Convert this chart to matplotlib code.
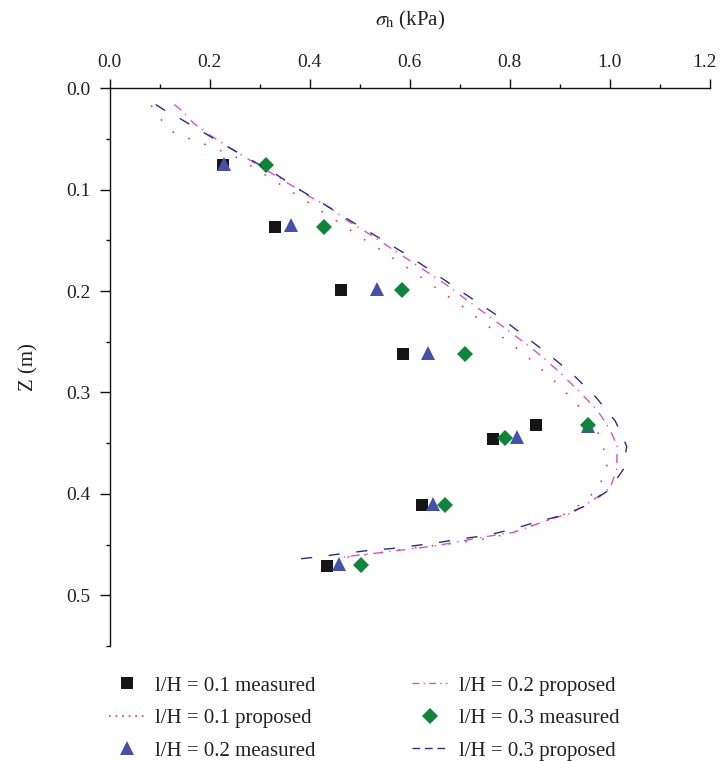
import matplotlib
matplotlib.use("Agg")
import matplotlib.pyplot as plt
from matplotlib.lines import Line2D
from matplotlib.transforms import ScaledTranslation
from matplotlib.ticker import MultipleLocator, FormatStrFormatter

plt.rcParams['font.family'] = ['Liberation Serif', 'DejaVu Serif']
plt.rcParams['mathtext.fontset'] = 'stix'

# ---- measured data (sigma_h in kPa, depth Z in m) ----
z_m01 = [0.076, 0.137, 0.199, 0.262, 0.332, 0.346, 0.411, 0.471]
s_m01 = [0.227, 0.331, 0.463, 0.586, 0.853, 0.766, 0.625, 0.435]

z_m02 = [0.075, 0.135, 0.198, 0.261, 0.333, 0.344, 0.410, 0.469]
s_m02 = [0.228, 0.363, 0.535, 0.636, 0.957, 0.815, 0.647, 0.458]

z_m03 = [0.076, 0.137, 0.199, 0.262, 0.332, 0.345, 0.411, 0.470]
s_m03 = [0.312, 0.429, 0.584, 0.710, 0.957, 0.791, 0.671, 0.503]

# ---- proposed curves ----
z_p01 = [0.017, 0.031, 0.043, 0.049, 0.054, 0.060, 0.065, 0.073, 0.082, 0.091,
         0.100, 0.109, 0.119, 0.128, 0.137, 0.147, 0.156, 0.166, 0.185, 0.195,
         0.205, 0.215, 0.226, 0.237, 0.248, 0.259, 0.271, 0.284, 0.297, 0.312,
         0.326, 0.340, 0.354, 0.369, 0.382, 0.396, 0.409, 0.419, 0.424, 0.429,
         0.434, 0.439, 0.445, 0.449, 0.452, 0.456, 0.460, 0.463]
s_p01 = [0.083, 0.103, 0.126, 0.155, 0.184, 0.213, 0.242, 0.271, 0.300, 0.329,
         0.357, 0.387, 0.416, 0.445, 0.473, 0.502, 0.531, 0.562, 0.619, 0.647,
         0.676, 0.705, 0.734, 0.763, 0.792, 0.821, 0.850, 0.879, 0.907, 0.935,
         0.958, 0.977, 0.987, 0.996, 0.989, 0.974, 0.945, 0.915, 0.887, 0.857,
         0.829, 0.801, 0.743, 0.684, 0.627, 0.569, 0.511, 0.465]

z_p02 = [0.016, 0.022, 0.035, 0.048, 0.059, 0.083, 0.095, 0.107, 0.118, 0.131,
         0.143, 0.181, 0.194, 0.208, 0.222, 0.236, 0.250, 0.265, 0.282, 0.300,
         0.318, 0.337, 0.353, 0.376, 0.394, 0.407, 0.419, 0.424, 0.438, 0.442,
         0.451, 0.458, 0.460, 0.463]
s_p02 = [0.129, 0.144, 0.169, 0.206, 0.241, 0.321, 0.361, 0.401, 0.441, 0.477,
         0.517, 0.634, 0.674, 0.712, 0.751, 0.789, 0.827, 0.866, 0.904, 0.941,
         0.976, 1.001, 1.015, 1.014, 1.001, 0.964, 0.924, 0.887, 0.807, 0.754,
         0.654, 0.541, 0.501, 0.461]

z_p03 = [0.016, 0.022, 0.030, 0.044, 0.058, 0.071, 0.085, 0.101, 0.115, 0.130,
         0.144, 0.162, 0.177, 0.194, 0.210, 0.226, 0.244, 0.262, 0.282, 0.305,
         0.328, 0.353, 0.376, 0.396, 0.412, 0.421, 0.428, 0.435, 0.441, 0.444,
         0.448, 0.451, 0.454, 0.456, 0.459, 0.462, 0.4655]
s_p03 = [0.092, 0.111, 0.141, 0.189, 0.237, 0.284, 0.333, 0.383, 0.431, 0.479,
         0.527, 0.587, 0.634, 0.684, 0.732, 0.781, 0.829, 0.877, 0.926, 0.973,
         1.011, 1.034, 1.027, 0.999, 0.951, 0.906, 0.852, 0.804, 0.754, 0.707,
         0.657, 0.611, 0.561, 0.514, 0.464, 0.417, 0.355]

labels = ['l/H = 0.1 measured', 'l/H = 0.1 proposed', 'l/H = 0.2 measured',
          'l/H = 0.2 proposed', 'l/H = 0.3 measured', 'l/H = 0.3 proposed']

fig = plt.figure(figsize=(7.2, 7.61), dpi=100)
ax = fig.add_axes([0.1524, 0.1511, 0.8333, 0.7329])

c_red = '#e8352c'
c_mag = '#d455c6'
c_navy = '#2b2d86'
c_blue = '#4650aa'
c_green = '#11843b'
c_black = '#151515'

h1, = ax.plot(s_m01, z_m01, ls='none', marker='s', ms=8.6, mew=0, color=c_black)
ax.plot(s_p01, z_p01, ls=(0, (1.1, 10)), lw=1.1, color=c_red)
h3, = ax.plot(s_m02, z_m02, ls='none', marker='^', ms=10.5, mew=0, color=c_blue)
ax.plot(s_p02, z_p02, ls=(0, (6.5, 4, 1, 5)), lw=1.0, color=c_mag)
h5, = ax.plot(s_m03, z_m03, ls='none', marker='D', ms=8.0, mew=0, color=c_green)
ax.plot(s_p03, z_p03, ls=(0, (8, 12)), lw=1.0, color=c_navy)

# legend keys drawn with the short patterns used in the original legend
h2 = Line2D([], [], ls=(0, (1.1, 3.2)), lw=1.1, color=c_red)
h4 = Line2D([], [], ls=(0, (5, 3, 1, 3)), lw=1.0, color=c_mag)
h6 = Line2D([], [], ls=(0, (5.5, 3.5)), lw=1.0, color=c_navy)

ax.set_xlim(0, 1.2)
ax.set_ylim(0.55, 0)

ax.spines['right'].set_visible(False)
ax.spines['bottom'].set_visible(False)
for sp in ('left', 'top'):
    ax.spines[sp].set_linewidth(1.0)
    ax.spines[sp].set_color('#111111')

ax.xaxis.tick_top()
ax.xaxis.set_label_position('top')
ax.xaxis.set_major_locator(MultipleLocator(0.2))
ax.xaxis.set_minor_locator(MultipleLocator(0.1))
ax.yaxis.set_major_locator(MultipleLocator(0.1))
ax.yaxis.set_minor_locator(MultipleLocator(0.05))
ax.xaxis.set_major_formatter(FormatStrFormatter('%.1f'))
ax.yaxis.set_major_formatter(FormatStrFormatter('%.1f'))

ax.tick_params(axis='x', which='major', direction='out', length=6.5, width=1.0,
               pad=6, labelsize=14, colors='#111111', labelcolor='#222222')
ax.tick_params(axis='x', which='minor', direction='out', length=3, width=1.0,
               colors='#111111')
ax.tick_params(axis='y', which='major', direction='out', length=7, width=1.0,
               pad=7, labelsize=14, colors='#111111', labelcolor='#222222')
ax.tick_params(axis='y', which='minor', direction='out', length=3, width=1.0,
               colors='#111111')

# nudge the last top tick label so it stays inside the figure
fig.canvas.draw()
last = ax.xaxis.get_major_ticks()[-1]
for tk in ax.xaxis.get_major_ticks():
    if abs(tk.get_loc() - 1.2) < 1e-6:
        last = tk
last.label2.set_transform(last.label2.get_transform()
                          + ScaledTranslation(-4 / 72, 0, fig.dpi_scale_trans))

ax.set_xlabel(r'$\sigma_{\mathrm{h}}$ (kPa)', fontsize=15, color='#222222')
ax.xaxis.set_label_coords(0.5, 1.113)
ax.set_ylabel('Z (m)', fontsize=15, color='#222222')
ax.yaxis.set_label_coords(-0.118, 0.5)

leg = fig.legend([h1, h2, h3, h4, h5, h6], labels, ncol=2,
                 loc='upper left', bbox_to_anchor=(0.1514, 0.1117),
                 frameon=False, fontsize=15, borderpad=0, borderaxespad=0,
                 handlelength=1.68, handletextpad=0.55, columnspacing=4.63,
                 labelspacing=0.62)
for t in leg.get_texts():
    t.set_color('#222222')

fig.savefig('out.png', dpi=100)
